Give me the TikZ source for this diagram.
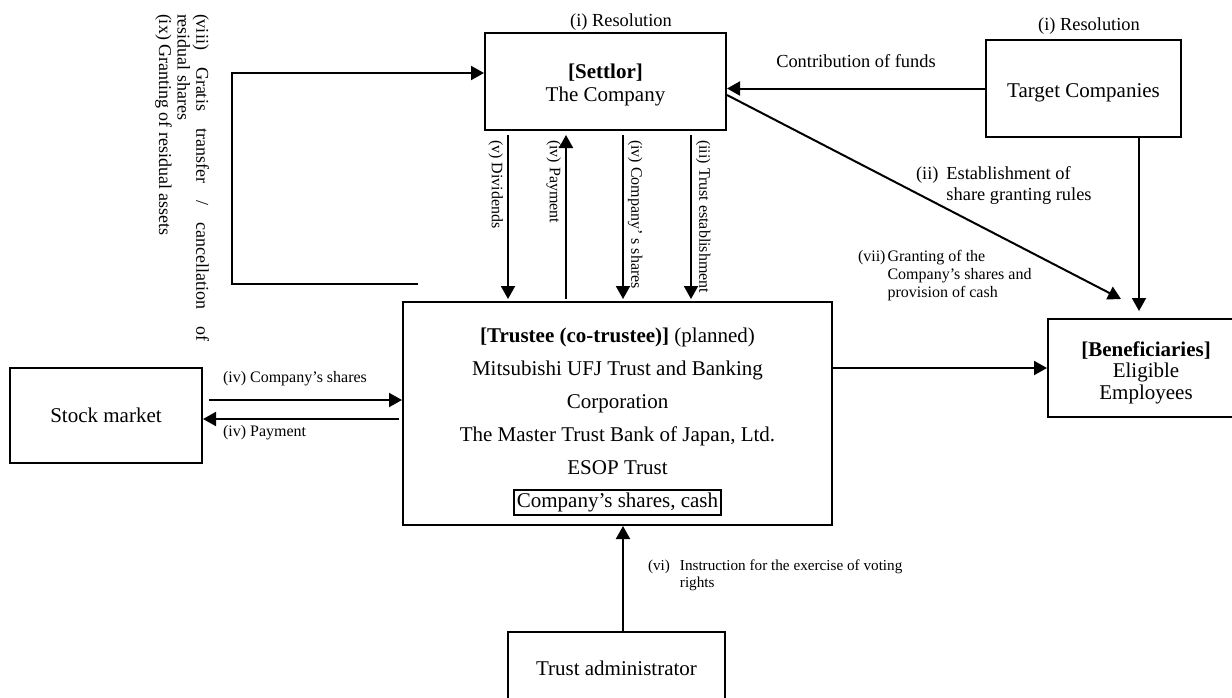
\documentclass[tikz,border=0pt]{standalone}
\usepackage{fontspec}
\setmainfont{Liberation Serif}
\usepackage{tikz}
\usetikzlibrary{calc}
\usetikzlibrary{arrows.meta}

\begin{document}
\begin{tikzpicture}[x=0.5pt, y=-0.5pt, line width=1pt, >={Triangle[length=6.5pt,width=7pt]},
  box/.style={draw, inner sep=0pt, align=center, font=\fontsize{10.5}{12}\selectfont},
  lbl/.style={inner sep=1pt, font=\fontsize{8}{9}\selectfont},
  mid/.style={inner sep=1pt, font=\fontsize{9.2}{10.5}\selectfont},
  fwd/.style={->}, back/.style={<-}]

\useasboundingbox (0,0) rectangle (1232,697);
\clip (0,0) rectangle (1232,697);

\node [box, minimum width=120.5pt, minimum height=48.5pt, font=\fontsize{10.5}{11.5}\selectfont] (settlor) at (605.5,81.5) {\rule{0pt}{11pt}\textbf{[Settlor]}\\The Company};
\node [box, minimum width=97.5pt, minimum height=48.5pt] (target) at (1083.5,88.5) {\rule{0pt}{11.2pt}Target Companies};
\node [box, minimum width=214.5pt, minimum height=111.5pt, font=\fontsize{10.5}{16.5}\selectfont] (trustee) at (617.5,413.5)
  {\rule{0pt}{15.5pt}\textbf{[Trustee (co-trustee)]} (planned)\\Mitsubishi UFJ Trust and Banking\\Corporation\\The Master Trust Bank of Japan, Ltd.\\ESOP Trust\\
   {\setlength\fboxsep{1pt}\setlength\fboxrule{0.8pt}\fbox{Company’s shares, cash}}};
\node [box, minimum width=98pt, minimum height=49pt, font=\fontsize{10.5}{10.8}\selectfont] (benef) at (1146,368) {\rule{0pt}{12pt}\textbf{[Beneficiaries]}\\Eligible\\Employees};
\node [box, minimum width=96pt, minimum height=47.5pt] (stock) at (106,415.5) {Stock market};
\node [box, minimum width=108.5pt, minimum height=36.5pt] (admin) at (616.5,668.5) {Trust administrator};

\node [mid] (res-settlor) at (621,22) {(i) Resolution};
\node [mid] (res-target) at (1089,26) {(i) Resolution};

\draw [->] (target.west) -- (target.west -| settlor.east)
  node [mid, midway, above=9pt] (funds) {Contribution of funds};

\draw [->] ([yshift=-6.75pt]settlor.east) -- ([xshift=-12.5pt,yshift=9.5pt]benef.north);
\node [mid, anchor=west] (rules) at (913,186)
  {\begin{tabular}{@{}l@{\hspace{4pt}}l@{}}(ii) & Establishment of\\ & share granting rules\end{tabular}};
\node [lbl, anchor=west] (grant) at (855,276)
  {\begin{tabular}{@{}l@{\hspace{1pt}}l@{}}(vii) & Granting of the\\ & Company’s shares and\\ & provision of cash\end{tabular}};

\coordinate (drop) at (1139,0);
\draw [->, shorten >=3.5pt] (target.south -| drop) -- (benef.north -| drop);
\draw [->] (trustee.east |- benef.west) -- (benef.west);

% settlor <-> trustee
\foreach \x/\tip/\anc/\dx/\l [count=\i] in {508/fwd/north west/-2/{(v) Dividends},
    566/back/north west/-2/{(iv) Payment},
    623/fwd/south west/2/{(iv) Company’\ s shares},
    691/fwd/south west/2/{(iii) Trust establishment}}
{
  \coordinate (col-\i) at (\x,0);
  \draw [\tip, shorten <=2pt, shorten >=1pt] (settlor.south -| col-\i) -- (trustee.north -| col-\i);
  \node [lbl, rotate=-90, anchor=\anc] (step-\i) at ($(settlor.south -| col-\i)+(\dx,6)$) {\l};
}

% stock market
\draw [->] ([xshift=3pt,yshift=7.75pt]stock.east) -- ([yshift=7.75pt]stock.east -| trustee.west);
\node [lbl, anchor=west] (buy) at (220,379) {(iv) Company’s shares};
\draw [->] ([xshift=-1.5pt,yshift=-1.75pt]stock.east -| trustee.west) -- ([yshift=-1.75pt]stock.east);
\node [lbl, anchor=west] (pay) at (220,433) {(iv) Payment};

\draw [->] (admin.north -| col-3) -- (trustee.south -| col-3);
\node [lbl, anchor=west, font=\fontsize{7.6}{8.5}\selectfont] (vote) at (645,576)
  {\begin{tabular}{@{}l@{\hspace{5pt}}l@{}}(vi) & Instruction for the exercise of voting\\ & rights\end{tabular}};

% residual shares back to the company
\coordinate (ret) at (418,284);
\draw [->] (ret) -- ++(-186,0) |- ([yshift=4.25pt]settlor.west);
\node [rotate=-90, anchor=north west, inner sep=0pt, align=left, font=\fontsize{9}{9.3}\selectfont] (residual) at (210,13)
  {\makebox[163.5pt][s]{(viii) Gratis transfer / cancellation of}\\residual shares\\(ix) Granting of residual assets};

\end{tikzpicture}
\end{document}
